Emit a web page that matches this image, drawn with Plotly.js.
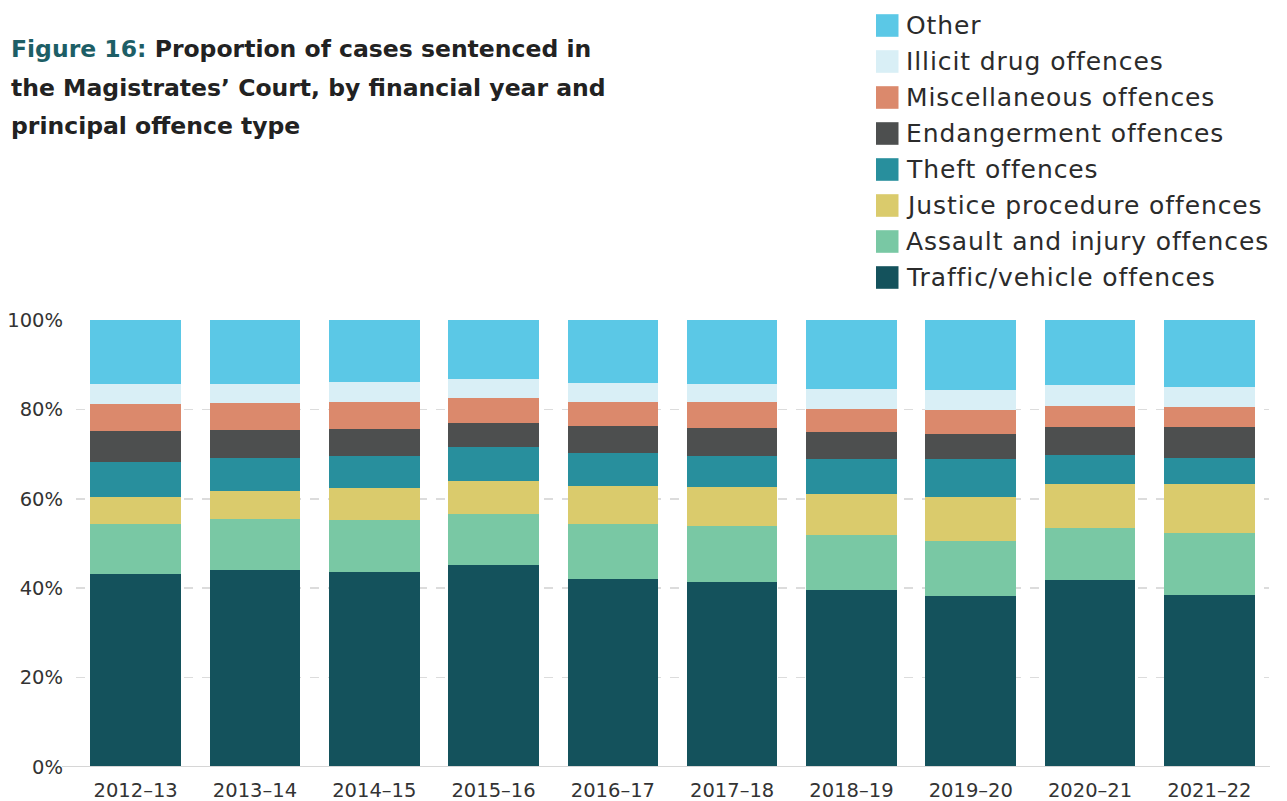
<!DOCTYPE html>
<html>
<head>
<meta charset="utf-8">
<script src="https://cdn.plot.ly/plotly-3.0.1.min.js"></script>
<style>
  html, body { margin: 0; padding: 0; background: #fff; }
  #chart { width: 1287px; height: 801px; }
</style>
</head>
<body>
<div id="chart"></div>
<script>
// ---- Data ----
const years = ["2012–13","2013–14","2014–15","2015–16","2016–17","2017–18","2018–19","2019–20","2020–21","2021–22"];
const traffic   = [43.2, 44.1, 43.6, 45.2, 42.1, 41.4, 39.6, 38.3, 41.8, 38.5];
const assault   = [11.2, 11.4, 11.7, 11.4, 12.3, 12.5, 12.3, 12.3, 11.7, 13.8];
const justice   = [ 6.0,  6.2,  7.1,  7.4,  8.5,  8.7,  9.2,  9.8,  9.8, 11.0];
const theft     = [ 7.8,  7.4,  7.2,  7.6,  7.3,  7.0,  7.8,  8.5,  6.5,  5.8];
const endanger  = [ 7.0,  6.3,  6.0,  5.4,  6.1,  6.2,  6.0,  5.6,  6.3,  7.0];
const misc      = [ 6.0,  6.0,  6.1,  5.6,  5.4,  5.9,  5.2,  5.4,  4.7,  4.4];
const drugs     = [ 4.5,  4.3,  4.4,  4.2,  4.2,  4.0,  4.5,  4.4,  4.7,  4.5];
const other     = [14.3, 14.3, 13.9, 13.2, 14.1, 14.3, 15.4, 15.7, 14.5, 15.0];

const seriesNames  = ["Traffic/vehicle offences","Assault and injury offences","Justice procedure offences","Theft offences","Endangerment offences","Miscellaneous offences","Illicit drug offences","Other"];
const seriesValues = [traffic, assault, justice, theft, endanger, misc, drugs, other];
const seriesColors = ["#14525c","#79c8a4","#dacb6c","#288f9d","#4d4f4f","#db896c","#d9eff6","#5bc8e6"];

const yTickVals = [0, 20, 40, 60, 80, 100];

const titleLines = [
  "<span style='color:#1d5e66'>Figure 16:</span> Proportion of cases sentenced in",
  "the Magistrates’ Court, by financial year and",
  "principal offence type"
];

// ---- Layout geometry (pixels) ----
const W = 1287, H = 801;
const mL = 76, mR = 18, mT = 320, mB = 34;
const plotW = W - mL - mR, plotH = H - mT - mB;
const px2x = p => (p - mL) / plotW;
const py2y = p => (H - mB - p) / plotH;

const FONT = "DejaVu Sans, sans-serif";

const traces = seriesNames.map((name, i) => ({
  type: "bar",
  name: name,
  x: years,
  y: seriesValues[i],
  marker: { color: seriesColors[i], line: { width: 0 } },
  hovertemplate: "%{x}<br>" + name + ": %{y:.1f}%<extra></extra>",
  showlegend: false
}));

// custom legend (large swatches), listed top to bottom in reverse stacking order
const shapes = [];
const annotations = [];
const legendTop = 25.5, legendStep = 36;
const legendOrder = seriesNames.map((n, i) => i).reverse();
legendOrder.forEach((idx, k) => {
  const cy = legendTop + k * legendStep;
  shapes.push({
    type: "rect", xref: "paper", yref: "paper",
    x0: px2x(876), x1: px2x(898.5),
    y0: py2y(cy - 11.3), y1: py2y(cy + 11.3),
    fillcolor: seriesColors[idx], line: { width: 0 }
  });
  annotations.push({
    xref: "paper", yref: "paper",
    x: px2x(904), y: py2y(cy),
    xanchor: "left", yanchor: "middle",
    text: "<span style='letter-spacing:0.9px'>" + seriesNames[idx] + "</span>",
    showarrow: false,
    font: { family: FONT, size: 25, color: "#2b2b2b" }
  });
});

// title, one annotation per line
const titleY = [49, 88, 126];
titleLines.forEach((t, i) => {
  annotations.push({
    xref: "paper", yref: "paper",
    x: px2x(9), y: py2y(titleY[i]),
    xanchor: "left", yanchor: "middle", align: "left",
    text: "<b>" + t + "</b>",
    showarrow: false,
    font: { family: FONT, size: 23.5, color: "#222222" }
  });
});

// baseline
shapes.push({
  type: "line", xref: "paper", yref: "y",
  x0: px2x(62), x1: px2x(1270), y0: 0, y1: 0,
  line: { color: "#d6d6d6", width: 2 }
});

const layout = {
  width: W, height: H,
  margin: { l: mL, r: mR, t: mT, b: mB, pad: 0 },
  paper_bgcolor: "#ffffff", plot_bgcolor: "#ffffff",
  barmode: "stack",
  bargap: 0.24,
  showlegend: false,
  font: { family: FONT, color: "#333333" },
  xaxis: {
    type: "category",
    tickfont: { family: FONT, size: 19.5, color: "#333333" },
    showgrid: false, zeroline: false, showline: false,
    ticks: "", ticklabelstandoff: 9,
    fixedrange: true
  },
  yaxis: {
    range: [0, 100],
    tickvals: yTickVals,
    ticktext: yTickVals.map(v => v + "%"),
    tickfont: { family: FONT, size: 19.5, color: "#333333" },
    showgrid: true, gridcolor: "#dcdcdc", gridwidth: 1.5, griddash: "dash",
    zeroline: false, showline: false, ticks: "",
    ticklabelstandoff: 12,
    fixedrange: true
  },
  shapes: shapes,
  annotations: annotations
};

Plotly.newPlot("chart", traces, layout, { displayModeBar: false, staticPlot: true });
</script>
</body>
</html>
